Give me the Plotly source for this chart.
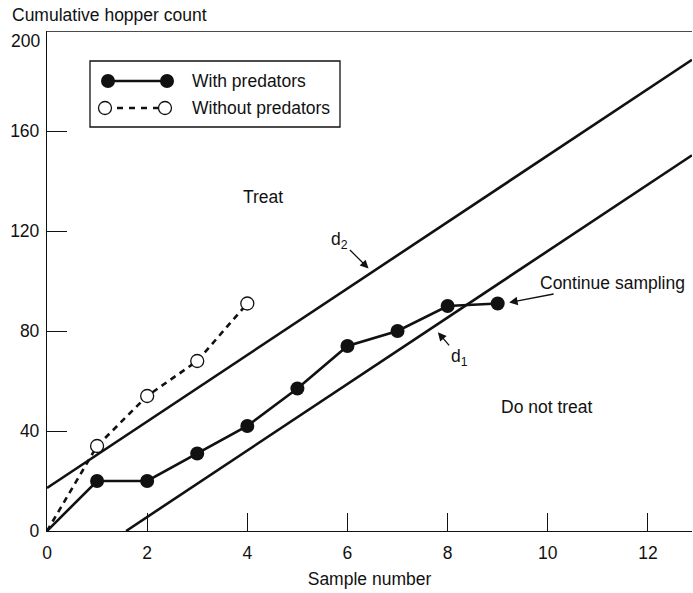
import plotly.graph_objects as go

# ---- data ----
samples_with = [0, 1, 2, 3, 4, 5, 6, 7, 8, 9]
counts_with = [0, 20, 20, 31, 42, 57, 74, 80, 90, 91]
samples_without = [0, 1, 2, 3, 4]
counts_without = [0, 34, 54, 68, 91]
line_names = ["d1", "d2"]
line_intercepts = [-21.0, 17.2]
line_slopes = [13.3, 13.3]
x_ticks = [0, 2, 4, 6, 8, 10, 12]
y_ticks = [0, 40, 80, 120, 160]
y_top = 200

X_MAX = 12.88
FONT = "Liberation Sans, Arial, Helvetica, sans-serif"
INK = "#111111"
FS = 17.5

fig = go.Figure()

# decision lines
for name, b, m in zip(line_names, line_intercepts, line_slopes):
    x0 = max(0.0, -b / m) if b < 0 else 0.0
    xs = [x0, X_MAX]
    ys = [b + m * x for x in xs]
    fig.add_trace(go.Scatter(x=xs, y=ys, mode="lines", line=dict(color=INK, width=2.6),
                             showlegend=False, hoverinfo="skip"))

# without predators (open, dashed)
fig.add_trace(go.Scatter(x=samples_without, y=counts_without, mode="lines",
                         line=dict(color=INK, width=2.6, dash="6px,5px"), showlegend=False))
fig.add_trace(go.Scatter(x=samples_without[1:], y=counts_without[1:], mode="markers",
                         marker=dict(size=13, color="white", line=dict(color=INK, width=1.3)),
                         showlegend=False))
# with predators (filled)
fig.add_trace(go.Scatter(x=samples_with, y=counts_with, mode="lines",
                         line=dict(color=INK, width=2.6), showlegend=False))
fig.add_trace(go.Scatter(x=samples_with[1:], y=counts_with[1:], mode="markers",
                         marker=dict(size=14, color=INK), showlegend=False))

# ---- manual legend on a pixel-scaled overlay axis ----
fig.add_trace(go.Scatter(x=[108, 167], y=[81, 81], xaxis="x2", yaxis="y2", mode="lines+markers",
                         line=dict(color=INK, width=2.6), marker=dict(size=14, color=INK),
                         showlegend=False, hoverinfo="skip"))
fig.add_trace(go.Scatter(x=[105, 165], y=[108, 108], xaxis="x2", yaxis="y2", mode="lines",
                         line=dict(color=INK, width=2.6, dash="6px,6px"),
                         showlegend=False, hoverinfo="skip"))
fig.add_trace(go.Scatter(x=[105, 165], y=[108, 108], xaxis="x2", yaxis="y2", mode="markers",
                         marker=dict(size=13, color="white", line=dict(color=INK, width=1.3)),
                         showlegend=False, hoverinfo="skip"))

shapes = [
    dict(type="rect", xref="x2", yref="y2", x0=90, x1=340, y0=61, y1=127,
         line=dict(color=INK, width=1.3), fillcolor="rgba(0,0,0,0)", layer="below"),
    dict(type="line", xref="paper", yref="y", x0=0, x1=1, y0=y_top, y1=y_top,
         line=dict(color=INK, width=1.3)),
]

def txt(**kw):
    d = dict(showarrow=False, font=dict(size=FS, color=INK, family=FONT))
    d.update(kw)
    return d

def arrow_label(text, x, y, ax, ay):
    return dict(x=x, y=y, ax=ax, ay=ay, axref="x", ayref="y", text=text, showarrow=True,
                arrowhead=2, arrowsize=1.3, arrowwidth=1.3, arrowcolor=INK, standoff=2,
                font=dict(size=FS, color=INK, family=FONT))

annotations = [
    txt(xref="x2", yref="y2", x=190, y=81, text="With predators", xanchor="left", yanchor="middle"),
    txt(xref="x2", yref="y2", x=190, y=108, text="Without predators", xanchor="left", yanchor="middle"),
    txt(xref="paper", yref="paper", x=-0.0574, y=1.032, text="Cumulative hopper count",
        xanchor="left", yanchor="middle"),
    txt(xref="paper", yref="y", x=0, y=y_top, xshift=-5, yshift=-10, text=str(y_top),
        xanchor="right", yanchor="middle"),
    txt(x=4.32, y=133.6, text="Treat"),
    txt(x=9.99, y=49.6, text="Do not treat"),
    arrow_label("Continue sampling", 9.19, 91.2, 11.30, 99.4),
    arrow_label("d<sub>2</sub>", 6.45, 104.4, 5.85, 116.4),
    arrow_label("d<sub>1</sub>", 7.78, 80.1, 8.23, 69.6),
]

fig.update_layout(
    width=693, height=593,
    margin=dict(l=47, r=1, t=31, b=62),
    paper_bgcolor="white", plot_bgcolor="white",
    font=dict(family=FONT, size=FS, color=INK),
    showlegend=False,
    xaxis=dict(range=[0, X_MAX], tickvals=x_ticks, ticktext=[str(v) for v in x_ticks],
               ticks="inside", ticklen=18, tickwidth=1.3, tickcolor=INK,
               showline=True, linecolor=INK, linewidth=1.3, showgrid=False, zeroline=False,
               title=dict(text="Sample number", font=dict(size=FS), standoff=10),
               tickfont=dict(size=FS), ticklabelstandoff=6),
    yaxis=dict(range=[0, y_top], tickvals=y_ticks, ticktext=[str(v) for v in y_ticks],
               ticks="inside", ticklen=20, tickwidth=1.3, tickcolor=INK,
               showline=True, linecolor=INK, linewidth=1.3, showgrid=False, zeroline=False,
               tickfont=dict(size=FS), ticklabelstandoff=3),
    xaxis2=dict(range=[47, 692], overlaying="x", visible=False, fixedrange=True),
    yaxis2=dict(range=[531, 31], overlaying="y", visible=False, fixedrange=True),
    shapes=shapes,
    annotations=annotations,
)

fig.write_html("out.html")
